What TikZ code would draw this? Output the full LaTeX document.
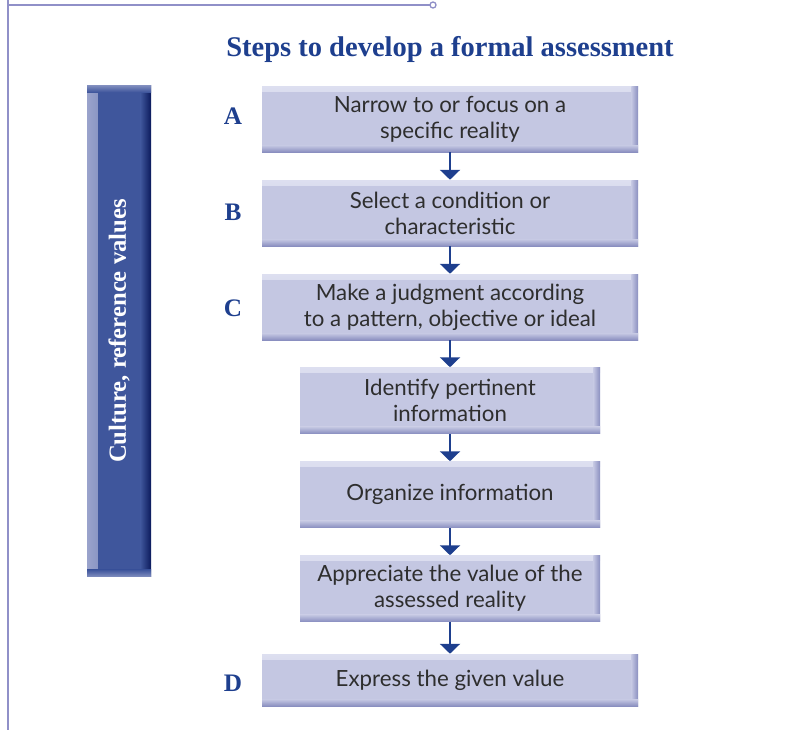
\documentclass[tikz,border=0pt]{standalone}
\usepackage{fontspec}
\setmainfont{Liberation Serif}
\setsansfont{Lato}
\usetikzlibrary{arrows.meta}
\definecolor{navy}{HTML}{1E3F8E}
\definecolor{barblue}{HTML}{3F569C}
\definecolor{bardark}{HTML}{0B1A5C}
\definecolor{barlight}{HTML}{9AA3CC}
\definecolor{boxfill}{HTML}{C4C7E2}
\definecolor{boxedge}{HTML}{8A8FC0}
\definecolor{boxtop}{HTML}{DDDFF0}
\definecolor{frameline}{HTML}{9090C8}
\definecolor{boxtext}{HTML}{2E2E2E}
\begin{document}
\begin{tikzpicture}[x=0.0265cm,y=-0.0265cm,
  stepbox/.style={fill=boxfill, inner sep=0pt, align=center, text=boxtext,
    minimum height=66*0.0265cm,
    font=\sffamily\fontsize{16.8}{19.5}\selectfont,
    path picture={
      \shade[top color=boxtop, bottom color=boxfill]
        (path picture bounding box.north west) rectangle ([yshift=-4pt]path picture bounding box.north east);
      \shade[left color=boxfill, right color=boxedge]
        ([xshift=-5pt]path picture bounding box.north east) rectangle (path picture bounding box.south east);
      \shade[top color=boxfill, bottom color=boxedge]
        ([yshift=5pt]path picture bounding box.south west) rectangle (path picture bounding box.south east);
    }},
  wide/.style={stepbox, minimum width=376*0.0265cm},
  narrow/.style={stepbox, minimum width=300*0.0265cm},
  letter/.style={font=\fontsize{19}{19}\selectfont\bfseries, text=navy},
  flow/.style={navy, line width=2pt, -{Triangle[width=15pt,length=7.5pt]}},
  sidebar/.style={fill=barblue, inner sep=0pt,
    minimum width=64*0.0265cm, minimum height=491*0.0265cm,
    path picture={
      \shade[left color=barlight, right color=barblue]
        (path picture bounding box.north west) rectangle ([xshift=8pt]path picture bounding box.south west);
      \shade[left color=barblue, right color=bardark]
        ([xshift=-8pt]path picture bounding box.north east) rectangle (path picture bounding box.south east);
      \shade[top color=barlight!70!barblue, bottom color=barblue]
        (path picture bounding box.north west) rectangle ([yshift=-5pt]path picture bounding box.north east);
      \shade[top color=barblue, bottom color=barlight!70!barblue]
        ([yshift=5pt]path picture bounding box.south west) rectangle (path picture bounding box.south east);
    }}
]
  \useasboundingbox (0,0) rectangle (793,730);

  \draw[frameline, line width=1.2pt] (8,0) -- (8,730);
  \draw[frameline, line width=1.2pt] (8,5) -- (430,5);
  \draw[frameline, line width=1pt, fill=white] (433,5) circle (3);

  \node[font=\fontsize{21.5}{21.5}\selectfont\bfseries, text=navy] (title) at (450,49)
    {Steps to develop a formal assessment};

  \node[sidebar] (bar) at (119,331) {};
  \node[rotate=90, text=white, font=\fontsize{18.6}{18.6}\selectfont\bfseries] (barlabel) at (bar)
    {Culture, reference values};

  \node[wide] (s1) at (450,119) {Narrow to or focus on a\\specific reality};
  \node[wide] (s2) at (450,213) {Select a condition or\\characteristic};
  \node[wide] (s3) at (450,307) {Make a judgment according\\to a pattern, objective or ideal};
  \node[narrow] (s4) at (450,400.5) {Identify pertinent\\information};
  \node[narrow] (s5) at (450,494.5) {Organize information};
  \node[narrow] (s6) at (450,588.5) {Appreciate the value of the\\assessed reality};
  \node[wide, minimum height=52*0.0265cm] (s7) at (450,680) {Express the given value};

  \node[letter] (la) at (233,116) {A};
  \node[letter] (lb) at (233,212) {B};
  \node[letter] (lc) at (233,308) {C};
  \node[letter] (ld) at (233,683) {D};

  \foreach \a/\b in {s1/s2,s2/s3,s3/s4,s4/s5,s5/s6,s6/s7}
    \draw[flow] (\a) -- (\b);
\end{tikzpicture}
\end{document}
